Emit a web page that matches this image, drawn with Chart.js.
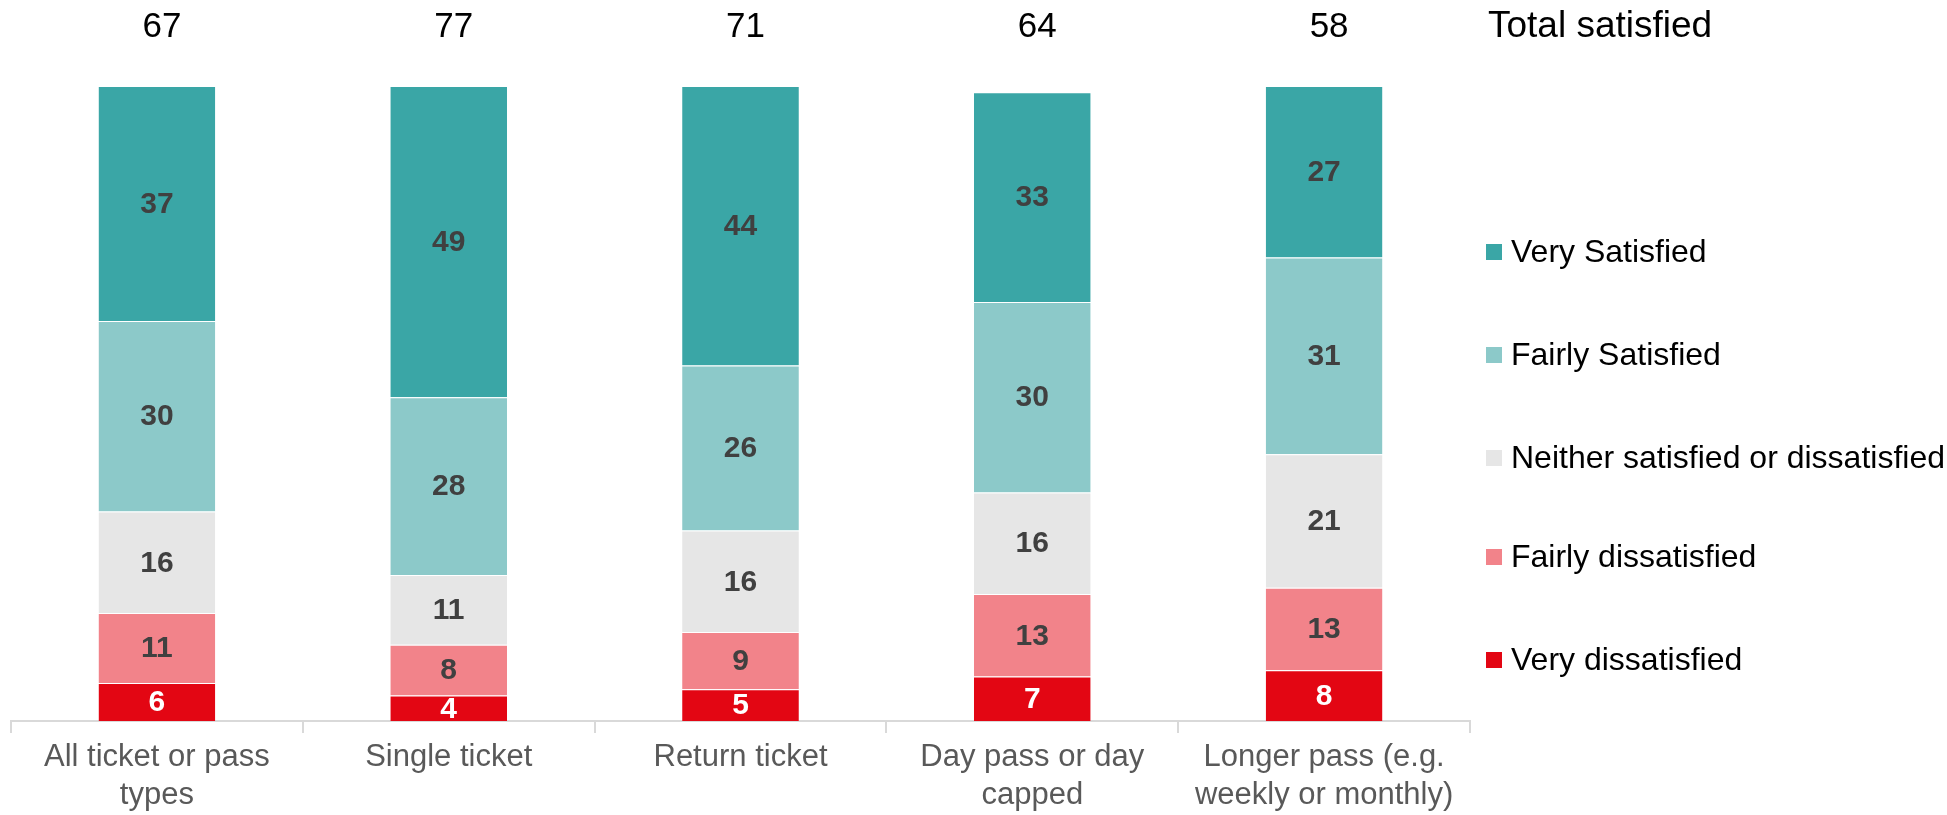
<!DOCTYPE html>
<html>
<head>
<meta charset="utf-8">
<script src="https://cdn.jsdelivr.net/npm/chart.js@4"></script>
<style>
  html, body { margin: 0; padding: 0; background: #ffffff; }
  #wrap { width: 1947px; height: 815px; }
</style>
</head>
<body>
<div id="wrap"><canvas id="chart" width="1947" height="815"></canvas></div>
<script>
// ticket types along the x axis (multi-line labels)
const categories = [
    ["All ticket or pass", "types"],
    ["Single ticket"],
    ["Return ticket"],
    ["Day pass or day", "capped"],
    ["Longer pass (e.g.", "weekly or monthly)"]
];

// satisfaction shares in %, bottom of the stack first
const veryDissatisfied = [6, 4, 5, 7, 8];
const fairlyDissatisfied = [11, 8, 9, 13, 13];
const neitherSatisfied = [16, 11, 16, 16, 21];
const fairlySatisfied = [30, 28, 26, 30, 31];
const verySatisfied = [37, 49, 44, 33, 27];

// "Total satisfied" row above the bars
const totalSatisfied = [67, 77, 71, 64, 58];
const totalTitle = "Total satisfied";

const FONT = "'Liberation Sans', Arial, Helvetica, sans-serif";

const series = [
    { label: "Very dissatisfied", data: veryDissatisfied, color: "#E30613", text: "#ffffff" },
    { label: "Fairly dissatisfied", data: fairlyDissatisfied, color: "#F2838A", text: "#404040" },
    { label: "Neither satisfied or dissatisfied", data: neitherSatisfied, color: "#E6E6E6", text: "#404040" },
    { label: "Fairly Satisfied", data: fairlySatisfied, color: "#8CC9C9", text: "#404040" },
    { label: "Very Satisfied", data: verySatisfied, color: "#3AA6A6", text: "#404040" }
];

// value inside each segment
const segmentLabels = {
    id: "segmentLabels",
    afterDatasetsDraw(chart) {
        const ctx = chart.ctx;
        ctx.save();
        ctx.font = "bold 30px " + FONT;
        ctx.textAlign = "center";
        ctx.textBaseline = "middle";
        chart.data.datasets.forEach((ds, i) => {
            const meta = chart.getDatasetMeta(i);
            meta.data.forEach((bar, j) => {
                ctx.fillStyle = series[i].text;
                ctx.fillText(String(ds.data[j]), bar.x, (bar.y + bar.base) / 2 + 1);
            });
        });
        ctx.restore();
    }
};

// totals row and the legend on the right
const sideText = {
    id: "sideText",
    afterDraw(chart) {
        const ctx = chart.ctx;
        const meta = chart.getDatasetMeta(0);
        ctx.save();
        ctx.fillStyle = "#000000";
        ctx.textBaseline = "middle";
        ctx.font = "35px " + FONT;
        ctx.textAlign = "center";
        meta.data.forEach((bar, j) => {
            ctx.fillText(String(totalSatisfied[j]), bar.x + 5, 27);
        });
        ctx.textAlign = "left";
        ctx.font = "37px " + FONT;
        ctx.fillText(totalTitle, 1488, 27);

        ctx.font = "32px " + FONT;
        const legendY = [252, 355, 458, 557, 660];
        series.slice().reverse().forEach((s, k) => {
            const y = legendY[k];
            ctx.fillStyle = s.color;
            ctx.fillRect(1486, y - 8, 16, 16);
            ctx.fillStyle = "#000000";
            ctx.fillText(s.label, 1511, y + 1);
        });
        ctx.restore();
    }
};

new Chart(document.getElementById("chart").getContext("2d"), {
    type: "bar",
    data: {
        labels: categories,
        datasets: series.map(s => ({
            label: s.label,
            data: s.data,
            backgroundColor: s.color,
            borderColor: "rgba(255,255,255,0.7)",
            borderWidth: { top: 1, right: 0, bottom: 0, left: 0 },
            borderSkipped: false,
            barPercentage: 0.4,
            categoryPercentage: 1.0
        }))
    },
    options: {
        responsive: false,
        animation: false,
        layout: { padding: { top: 86, left: 11, right: 477, bottom: 0 } },
        plugins: {
            legend: { display: false },
            tooltip: { enabled: false }
        },
        scales: {
            x: {
                stacked: true,
                afterFit(scale) { scale.height = 94; },
                grid: {
                    display: true,
                    drawOnChartArea: false,
                    drawTicks: true,
                    tickLength: 12,
                    color: "#D9D9D9",
                    lineWidth: 2
                },
                border: { display: true, color: "#D9D9D9", width: 2 },
                ticks: {
                    color: "#595959",
                    font: { family: FONT, size: 31, lineHeight: 1.22 },
                    padding: 6,
                    maxRotation: 0,
                    autoSkip: false
                }
            },
            y: {
                stacked: true,
                display: false,
                min: 0,
                max: 100
            }
        }
    },
    plugins: [segmentLabels, sideText]
});
</script>
</body>
</html>
